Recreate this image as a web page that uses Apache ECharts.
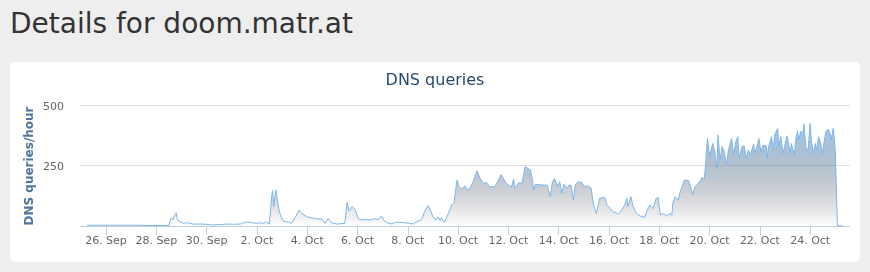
<!DOCTYPE html>
<html>
<head>
<meta charset="utf-8">
<script src="https://cdn.jsdelivr.net/npm/echarts@6/dist/echarts.min.js"></script>
<style>
  html, body { margin: 0; padding: 0; background: #eeeeee; width: 870px; height: 272px; overflow: hidden; }
  #heading { position: absolute; left: 10px; top: 7px; margin: 0; font-family: 'DejaVu Sans', sans-serif; font-size: 28px; font-weight: normal; color: #333333; line-height: normal; white-space: nowrap; }
  #card { position: absolute; left: 10px; top: 62px; width: 850px; height: 200px; background: #ffffff; border-radius: 5px; }
  #chart { position: absolute; left: 0; top: 0; width: 870px; height: 272px; }
</style>
</head>
<body>
<h1 id="heading">Details for doom.matr.at</h1>
<div id="card"></div>
<div id="chart"></div>
<script>
// Hours since 26 Sep 00:00
const hours = [-18,-6,6,18,30,42,54,60,62,64,65,67,68,70,74,77,83,90,96,101,109,115,122,128,134,139,144,147,149,153,156,158,159,160,162,165,167,169,174,177,181,184,187,192,201,206,209,212,215,220,228,230,232,235,238,240,242,246,252,256,260,263,265,268,273,277,284,289,293,297,301,304,307,309,312,315,317,319,320,323,325,328,330,332,335,337,339,343,344,347,351,354,357,360,363,366,371,374,377,379,381,384,387,389,390,394,397,400,402,405,407,408,410,416,421,422,424,426,428,431,433,435,437,440,442,444,446,448,451,454,457,460,463,465,468,471,476,478,481,484,489,491,495,497,498,501,503,506,510,514,516,519,522,525,527,529,532,535,538,540,541,543,546,548,549,552,556,558,560,562,565,567,569,571,572,574,576,579,581,583,584,586,588,590,592,594,597,599,601,603,604,607,609,611,613,615,618,619,622,623,625,627,630,631,632,635,637,638,641,642,644,646,649,650,653,654,657,658,660,661,663,665,666,668,670,672,673,675,677,678,680,682,684,685,687,689,691,692,694,696,697,698,703];
// DNS queries per hour
const queries = [3,3,3,3,3,2,2,2,31,27,41,55,31,18,11,14,8,8,7,4,6,8,7,8,17,14,11,14,10,16,8,120,146,80,149,69,38,21,16,11,38,66,52,38,29,29,11,32,14,8,11,98,63,80,66,38,25,27,25,30,27,42,25,14,8,16,14,11,8,19,25,59,84,73,38,25,38,22,35,15,35,66,87,96,190,162,153,165,151,153,190,228,197,176,180,162,162,186,212,198,183,169,162,194,155,180,176,245,240,232,190,149,173,169,169,176,121,183,197,162,183,135,173,155,169,166,107,173,183,180,162,166,156,91,52,114,118,87,73,59,50,59,87,114,80,121,80,52,41,36,59,87,73,114,118,45,52,41,52,45,94,121,107,142,149,190,187,162,128,162,176,187,201,193,245,362,287,341,307,235,376,273,328,307,252,314,362,293,348,369,280,328,331,280,314,293,338,300,341,362,307,334,331,280,321,369,314,376,403,328,369,300,355,372,300,341,293,355,394,355,390,383,421,321,314,424,355,300,341,314,369,341,300,341,390,400,383,355,403,307,307,2,0];
// X tick positions (hours) and labels
const tickHours = [0,48,96,144,192,240,288,336,384,432,480,528,576,624,672];
const tickLabels = ['26. Sep','28. Sep','30. Sep','2. Oct','4. Oct','6. Oct','8. Oct','10. Oct','12. Oct','14. Oct','16. Oct','18. Oct','20. Oct','22. Oct','24. Oct'];
const yTicks = [0, 250, 500];
const yTitle = 'DNS queries/hour';

const seriesData = hours.map((h, i) => [h, queries[i]]);
const font = 'DejaVu Sans';

function stops() {
  // blue (#7cb5ec) fading to transparent dark
  const out = [];
  const n = 10;
  for (let k = 0; k <= n; k++) {
    const t = k / n;
    const r = Math.round(124 + (2 - 124) * t);
    const g = Math.round(181 * (1 - t));
    const b = Math.round(236 * (1 - t));
    out.push({ offset: t, color: 'rgba(' + r + ',' + g + ',' + b + ',' + (1 - t).toFixed(3) + ')' });
  }
  return out;
}

const chart = echarts.init(document.getElementById('chart'), null, { renderer: 'canvas' });
chart.setOption({
  backgroundColor: 'transparent',
  animation: false,
  title: {
    text: 'DNS queries',
    left: 'center',
    top: 68,
    textStyle: { fontFamily: font, fontSize: 16, fontWeight: 'normal', color: '#274b6d' }
  },
  graphic: [{
    type: 'text',
    x: 30,
    y: 166,
    rotation: Math.PI / 2,
    style: {
      text: yTitle,
      fontFamily: font, fontSize: 12, fontWeight: 'bold',
      fill: '#4d759e',
      align: 'center',
      verticalAlign: 'middle'
    }
  }],
  grid: { left: 80, right: 20, top: 105, bottom: 46, outerBoundsMode: 'none', containLabel: false },
  xAxis: {
    type: 'value',
    min: -24.8,
    max: 710,
    axisLine: { show: true, lineStyle: { color: '#c0d0e0', width: 1 } },
    axisTick: { show: true, length: 9, lineStyle: { color: '#c0d0e0' }, customValues: tickHours },
    axisLabel: {
      customValues: tickHours,
      margin: 10,
      fontFamily: font, fontSize: 11, color: '#666666',
      hideOverlap: false,
      formatter: function (v) { const i = tickHours.indexOf(v); return i >= 0 ? tickLabels[i] : ''; }
    },
    splitLine: { show: false }
  },
  yAxis: {
    type: 'value',
    min: yTicks[0],
    max: yTicks[yTicks.length - 1],
    interval: 250,
    axisLine: { show: false },
    axisTick: { show: false },
    axisLabel: {
      showMinLabel: false,
      margin: 16,
      fontFamily: font, fontSize: 11, color: '#666666',
      formatter: function (v) { return '{a|' + v + '}'; },
      rich: { a: { fontFamily: font, fontSize: 11, color: '#666666', padding: [4, 0, 0, 0] } }
    },
    splitLine: { show: true, lineStyle: { color: '#e0e0e0', width: 1 } }
  },
  series: [{
    type: 'line',
    data: seriesData,
    showSymbol: false,
    symbol: 'none',
    lineStyle: { color: '#7cb5ec', width: 1 },
    areaStyle: {
      color: { type: 'linear', x: 0, y: 0, x2: 0, y2: 1, colorStops: stops() }
    },
    z: 2
  }]
});
</script>
</body>
</html>
